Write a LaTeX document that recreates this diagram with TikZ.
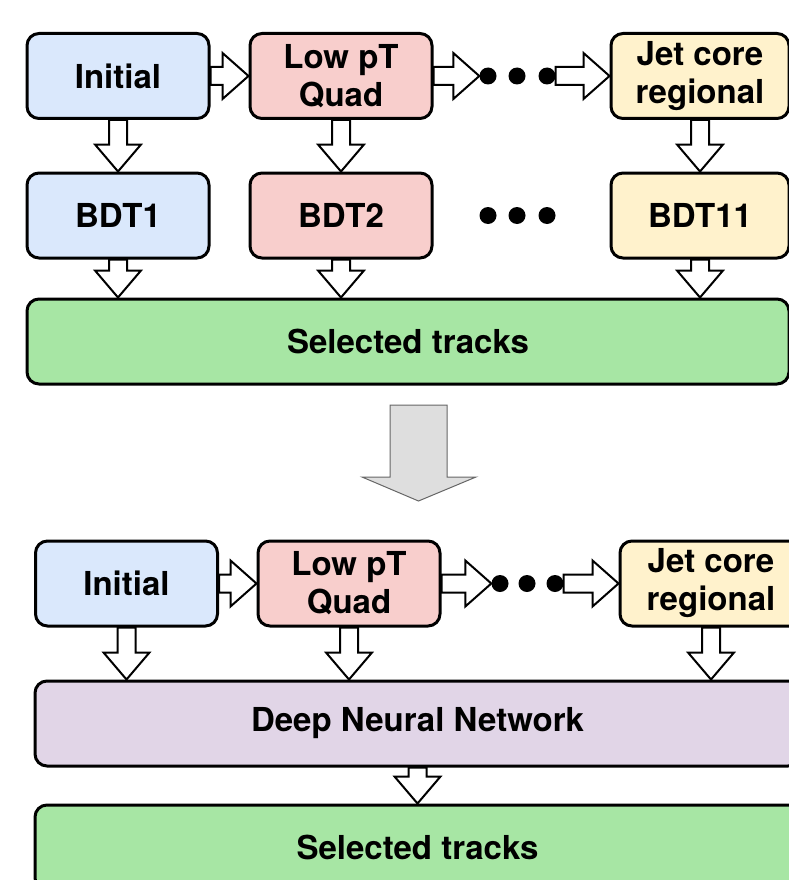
\documentclass[tikz,border=0pt]{standalone}
\usepackage{fontspec}
\setmainfont{TeX Gyre Heros}
\usetikzlibrary{calc}
\definecolor{stepblue}{HTML}{DAE8FC}
\definecolor{stepred}{HTML}{F8CECC}
\definecolor{stepyellow}{HTML}{FFF2CC}
\definecolor{selgreen}{HTML}{A7E6A4}
\definecolor{dnnpurple}{HTML}{E1D5E7}
\newcommand{\downblock}[2]{%
	\draw[blockarrow] let \p1=(#1.south), \p2=(#2.north) in
	(\x1-9pt,\y1) -- (\x1-9pt,\y2+27pt) -- (\x1-23pt,\y2+27pt) -- (\x1,\y2)
	-- (\x1+23pt,\y2+27pt) -- (\x1+9pt,\y2+27pt) -- (\x1+9pt,\y1) -- cycle;}
\newcommand{\rightblock}[2]{%
	\draw[blockarrow] let \p1=(#1.east), \p2=(#2.west) in
	(\x1,\y1+9pt) -- (\x2-26pt,\y1+9pt) -- (\x2-26pt,\y1+23pt) -- (\x2,\y1)
	-- (\x2-26pt,\y1-23pt) -- (\x2-26pt,\y1-9pt) -- (\x1,\y1-9pt) -- cycle;}
\begin{document}
\begin{tikzpicture}[x=1pt, y=-1pt,
		box/.style={draw, line width=3pt, rounded corners=12pt, align=center,
			minimum width=182pt, minimum height=85pt, inner sep=2pt,
			font=\fontsize{33}{38}\selectfont\bfseries},
		wide/.style={box, minimum width=#1},
		dot/.style={circle, fill=black, inner sep=0pt, minimum size=17pt},
		blockarrow/.style={draw, fill=white, line width=2pt, line join=miter}]
			\useasboundingbox (0,0) rectangle (788,880);
			\node[box, fill=stepblue] (init) at (118,76) {Initial};
			\node[box, fill=stepred] (lowpt) at (341,76) {Low pT\\Quad};
			\node[box, fill=stepyellow, minimum width=178pt] (jet) at (700,76) {Jet core\\regional};
			\node[box, fill=stepblue] (bdt1) at (118,215.5) {BDT1};
			\node[box, fill=stepred] (bdt2) at (341,215.5) {BDT2};
			\node[box, fill=stepyellow, minimum width=178pt] (bdt11) at (700,215.5) {BDT11};
			\node[wide=762pt, fill=selgreen] (sel) at (408,341.5) {Selected tracks};
			\foreach \i/\xx in {1/488,2/517,3/547}
				{
					\node[dot] (a\i) at (\xx,76) {};
					\node[dot] (b\i) at (\xx,215.5) {};
				}
			\rightblock{init}{lowpt}
			\rightblock{lowpt}{a1}
			\rightblock{a3}{jet}
			\downblock{init}{bdt1}
			\downblock{lowpt}{bdt2}
			\downblock{jet}{bdt11}
			\downblock{bdt1}{sel}
			\downblock{bdt2}{sel}
			\downblock{bdt11}{sel}
			\draw[fill=black!13, draw=black!60, line width=1pt] (390,405) -- (447,405) -- (447,477)
			-- (476,477) -- (418.5,501) -- (362,477) -- (390,477) -- cycle;
			\node[box, fill=stepblue] (init2) at (126.5,583.5) {Initial};
			\node[box, fill=stepred] (lowpt2) at (349,583.5) {Low pT\\Quad};
			\node[box, fill=stepyellow] (jet2) at (711,583.5) {Jet core\\regional};
			\node[wide=765pt, fill=dnnpurple] (dnn) at (417.5,723.5) {Deep Neural Network};
			\node[wide=765pt, fill=selgreen] (sel2) at (417.5,847.5) {Selected tracks};
			\foreach \i/\xx in {1/500,2/527,3/555}
				{
					\node[dot] (c\i) at (\xx,583.5) {};
				}
			\rightblock{init2}{lowpt2}
			\rightblock{lowpt2}{c1}
			\rightblock{c3}{jet2}
			\downblock{init2}{dnn}
			\downblock{lowpt2}{dnn}
			\downblock{jet2}{dnn}
			\downblock{dnn}{sel2}
		\end{tikzpicture}
\end{document}
